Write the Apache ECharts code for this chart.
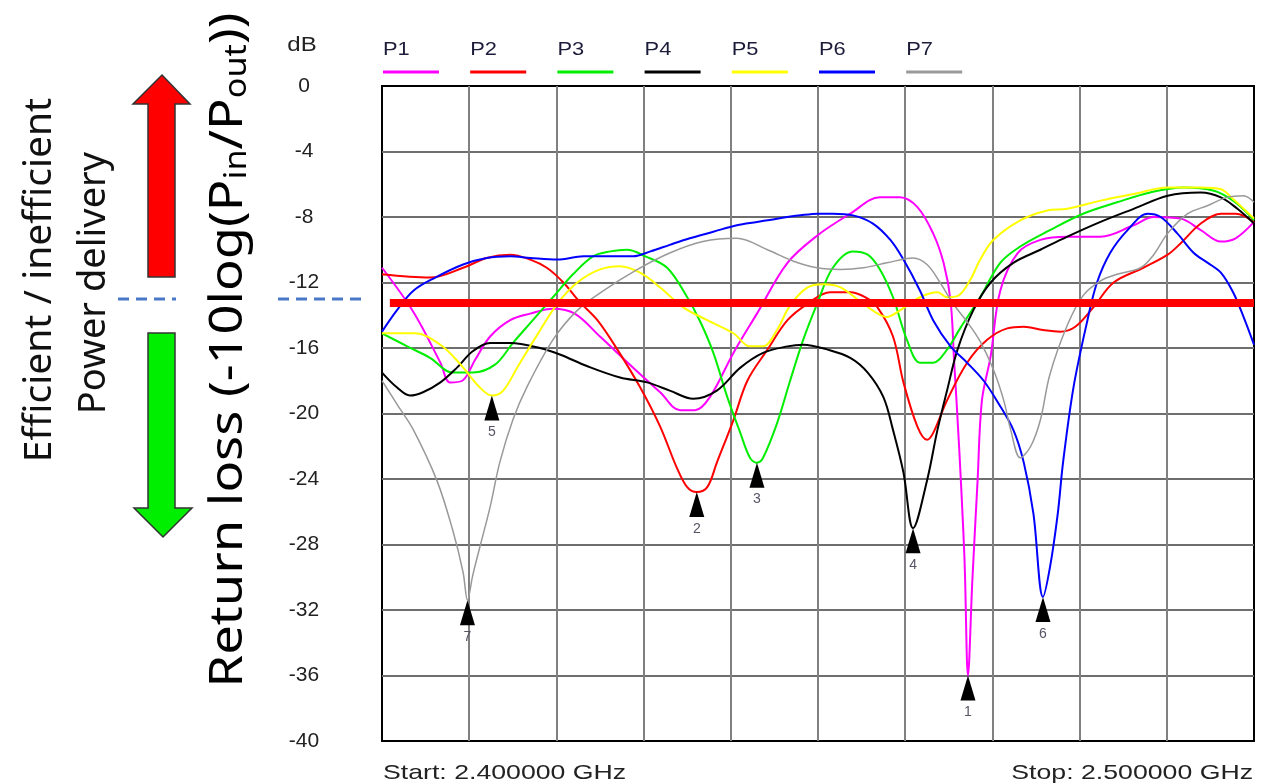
<!DOCTYPE html>
<html>
<head>
<meta charset="utf-8">
<script src="https://cdn.jsdelivr.net/npm/echarts@6/dist/echarts.min.js"></script>
<style>
  html, body { margin: 0; padding: 0; background: #fff; }
  #myChart { width: 1276px; height: 784px; }
</style>
</head>
<body>
<div id="myChart"></div>
<script>
// frequency in MHz, return loss in dB
var freqStart = 2400, freqStop = 2500;
var names = ['P1', 'P2', 'P3', 'P4', 'P5', 'P6', 'P7'];
var colors = ['#ff00ff', '#ff0000', '#00ee00', '#000000', '#ffff00', '#0000ff', '#999999'];
var limitDb = -13.25;   // thick red threshold line
var splitDb = -13.0;    // blue dashed marks on the left

var p1 = [[2400.0,-11.1],[2403.6,-13.8],[2406.7,-16.9],[2407.8,-18.1],[2409.2,-18.0],[2410.7,-16.7],[2412.4,-15.3],[2414.7,-14.3],[2417.0,-13.9],[2419.6,-13.6],[2422.1,-13.9],[2425.0,-15.3],[2428.8,-17.2],[2431.9,-18.7],[2434.2,-19.8],[2435.9,-19.8],[2437.6,-19.0],[2440.3,-16.3],[2443.0,-13.9],[2446.5,-10.8],[2450.0,-9.1],[2453.7,-7.8],[2457.1,-6.8],[2459.4,-6.8],[2461.4,-7.4],[2463.2,-9.0],[2464.4,-10.8],[2465.2,-13.1],[2465.6,-16.7],[2466.2,-22.2],[2466.8,-28.9],[2467.2,-36.0],[2467.7,-30.2],[2468.3,-24.1],[2468.8,-19.2],[2469.8,-16.5],[2470.9,-12.5],[2472.9,-10.2],[2475.5,-9.4],[2478.6,-9.2],[2482.4,-9.2],[2486.2,-8.5],[2488.5,-8.0],[2491.6,-8.1],[2493.9,-8.8],[2496.2,-9.5],[2497.9,-9.3],[2500.0,-8.3]];
var p2 = [[2400.0,-11.5],[2405.5,-11.7],[2409.3,-11.1],[2412.0,-10.5],[2414.7,-10.3],[2417.0,-10.6],[2418.9,-11.1],[2420.8,-12.0],[2422.7,-13.2],[2424.7,-14.3],[2427.0,-16.1],[2429.6,-18.4],[2431.9,-20.8],[2433.8,-23.3],[2435.0,-24.5],[2436.1,-24.8],[2437.3,-24.5],[2438.4,-23.0],[2440.3,-20.4],[2441.9,-18.0],[2444.2,-16.1],[2446.5,-14.3],[2448.8,-13.3],[2451.4,-12.6],[2453.7,-12.6],[2455.4,-12.9],[2456.8,-13.5],[2458.6,-15.3],[2459.8,-18.1],[2461.4,-20.8],[2462.5,-21.6],[2463.2,-21.2],[2464.8,-19.2],[2467.1,-16.9],[2469.4,-15.5],[2471.7,-14.8],[2473.6,-14.7],[2475.8,-14.9],[2477.8,-15.0],[2479.5,-14.7],[2481.6,-13.5],[2483.9,-12.0],[2487.3,-11.1],[2490.1,-10.3],[2491.6,-9.6],[2493.9,-8.4],[2496.2,-7.8],[2497.9,-7.8],[2500.0,-8.3]];
var p3 = [[2400.0,-15.1],[2402.9,-15.9],[2405.5,-16.6],[2408.1,-17.5],[2410.4,-17.5],[2413.0,-17.0],[2415.0,-15.7],[2417.3,-14.3],[2419.6,-12.9],[2421.9,-11.5],[2424.2,-10.4],[2426.2,-10.1],[2428.1,-10.0],[2430.2,-10.4],[2432.7,-11.1],[2435.0,-12.9],[2436.5,-14.4],[2438.0,-16.3],[2439.6,-19.0],[2441.1,-21.2],[2442.2,-22.7],[2443.0,-23.0],[2443.7,-22.7],[2445.3,-20.6],[2446.8,-18.0],[2448.3,-15.5],[2449.9,-13.3],[2451.7,-11.1],[2454.0,-10.1],[2455.7,-10.3],[2457.1,-11.2],[2458.6,-12.9],[2460.2,-15.5],[2461.7,-16.9],[2463.2,-16.9],[2464.8,-16.1],[2466.3,-14.8],[2468.6,-12.9],[2470.9,-10.8],[2473.2,-9.8],[2476.6,-8.8],[2480.4,-7.8],[2484.3,-7.1],[2488.1,-6.5],[2491.9,-6.2],[2495.4,-6.4],[2497.6,-7.0],[2499.3,-7.8],[2500.0,-8.2]];
var p4 = [[2400.0,-17.5],[2401.7,-18.4],[2403.2,-18.9],[2404.7,-18.7],[2406.7,-18.1],[2408.6,-17.2],[2410.4,-16.2],[2412.4,-15.7],[2414.7,-15.7],[2418.1,-16.0],[2420.4,-16.4],[2423.5,-17.1],[2427.3,-17.8],[2430.4,-18.1],[2433.0,-18.6],[2435.7,-19.1],[2438.4,-18.6],[2441.1,-17.2],[2443.7,-16.3],[2446.5,-15.9],[2448.3,-15.8],[2451.1,-16.1],[2453.7,-16.6],[2455.7,-17.5],[2457.5,-19.0],[2458.6,-21.0],[2459.8,-23.6],[2460.9,-27.0],[2462.5,-24.1],[2463.7,-21.0],[2464.8,-18.6],[2466.0,-16.1],[2467.8,-13.7],[2469.8,-12.0],[2472.4,-10.8],[2475.5,-10.0],[2478.6,-9.2],[2482.4,-8.3],[2486.2,-7.5],[2490.1,-6.7],[2493.9,-6.5],[2496.2,-6.8],[2498.1,-7.5],[2500.0,-8.4]];
var p5 = [[2400.0,-15.1],[2403.8,-15.1],[2406.7,-15.8],[2409.0,-17.0],[2411.2,-18.4],[2412.6,-18.9],[2413.9,-18.6],[2415.5,-17.2],[2417.8,-15.2],[2420.1,-13.3],[2422.4,-12.0],[2425.0,-11.2],[2427.3,-11.0],[2429.6,-11.4],[2431.9,-12.3],[2434.5,-13.5],[2437.3,-14.3],[2440.3,-15.1],[2442.2,-15.9],[2443.7,-15.9],[2445.3,-14.9],[2446.8,-13.4],[2448.8,-12.3],[2450.6,-12.1],[2452.6,-12.3],[2455.2,-13.3],[2457.9,-14.1],[2459.4,-13.7],[2461.7,-12.9],[2463.7,-12.6],[2464.8,-12.9],[2466.1,-12.8],[2467.5,-11.8],[2468.6,-10.6],[2470.1,-9.4],[2473.2,-8.2],[2476.3,-7.6],[2478.6,-7.5],[2482.4,-7.0],[2486.2,-6.6],[2490.1,-6.2],[2493.9,-6.2],[2496.2,-6.3],[2497.6,-6.9],[2500.0,-8.1]];
var p6 = [[2400.0,-15.0],[2401.7,-13.7],[2403.6,-12.5],[2406.1,-11.7],[2409.3,-10.9],[2412.0,-10.5],[2414.7,-10.4],[2417.0,-10.5],[2420.1,-10.6],[2423.1,-10.4],[2426.2,-10.4],[2428.8,-10.4],[2430.8,-10.1],[2433.0,-9.7],[2435.3,-9.3],[2438.0,-8.9],[2440.7,-8.5],[2443.0,-8.3],[2445.3,-8.1],[2448.0,-7.9],[2450.0,-7.8],[2451.7,-7.8],[2454.0,-7.9],[2456.3,-8.4],[2458.3,-9.4],[2459.8,-10.6],[2461.7,-12.5],[2463.2,-14.3],[2465.2,-15.9],[2467.1,-16.9],[2469.0,-18.0],[2470.6,-19.3],[2472.4,-21.0],[2473.6,-23.0],[2474.7,-26.1],[2475.8,-31.2],[2476.6,-29.4],[2477.5,-26.1],[2478.1,-23.0],[2479.3,-18.4],[2480.9,-14.3],[2482.0,-12.0],[2483.5,-10.2],[2485.5,-8.8],[2487.8,-7.8],[2489.3,-8.0],[2491.2,-9.0],[2493.1,-10.2],[2494.7,-10.8],[2496.2,-11.4],[2497.6,-12.6],[2498.8,-14.1],[2500.0,-15.8]];
var p7 = [[2400.0,-18.0],[2401.8,-19.5],[2403.6,-21.0],[2406.3,-24.1],[2408.1,-27.1],[2409.3,-29.7],[2409.8,-31.4],[2410.4,-29.9],[2411.2,-28.2],[2412.4,-25.7],[2413.5,-23.0],[2415.0,-20.4],[2416.6,-18.4],[2419.6,-15.5],[2422.4,-13.7],[2425.4,-12.5],[2429.3,-11.2],[2433.0,-10.2],[2436.8,-9.5],[2440.7,-9.3],[2444.2,-10.0],[2447.2,-10.7],[2449.9,-11.1],[2452.6,-11.2],[2455.2,-11.1],[2457.9,-10.8],[2460.9,-10.5],[2462.5,-10.9],[2464.0,-12.0],[2465.5,-13.3],[2467.1,-14.4],[2468.6,-15.6],[2470.1,-17.3],[2471.3,-19.2],[2472.1,-21.0],[2473.2,-22.7],[2474.4,-22.0],[2475.5,-20.4],[2476.6,-17.6],[2478.6,-14.6],[2480.4,-12.8],[2482.4,-11.9],[2484.3,-11.5],[2487.0,-11.1],[2488.5,-10.3],[2490.1,-9.0],[2492.4,-7.8],[2494.7,-7.3],[2496.9,-6.8],[2498.8,-6.7],[2500.0,-7.1]];
var allData = [p1, p2, p3, p4, p5, p6, p7];

var myChart = echarts.init(document.getElementById('myChart'));

var series = [];
for (var i = 0; i < names.length; i++) {
  series.push({
    name: names[i],
    type: 'line',
    data: allData[i],
    showSymbol: false,
    smooth: 0.35,
    lineStyle: { color: colors[i], width: i == 6 ? 1.5 : 2 },
    markPoint: {
      symbol: 'triangle',
      symbolSize: [15, 25],
      symbolOffset: [0, '50%'],
      itemStyle: { color: '#000' },
      label: {
        show: true,
        position: 'bottom',
        distance: 5,
        color: '#555566',
        fontSize: 14,
        fontFamily: 'Liberation Sans',
        formatter: function (p) { return p.seriesName.slice(1); }
      },
      data: [{ type: 'min', valueDim: 'y' }]
    }
  });
}
// threshold
series.push({
  name: 'limit',
  type: 'line',
  data: [[freqStart + 0.9, limitDb], [freqStop, limitDb]],
  showSymbol: false,
  silent: true,
  z: 5,
  lineStyle: { color: '#ff0000', width: 8 }
});

var option = {
  animation: false,
  grid: { left: 382, right: 22, top: 86, bottom: 43, show: true, borderColor: '#000', borderWidth: 2 },
  xAxis: {
    type: 'value', min: freqStart, max: freqStop, interval: 10,
    axisLine: { show: false }, axisTick: { show: false }, axisLabel: { show: false },
    splitLine: { show: true, showMinLine: false, showMaxLine: false, lineStyle: { color: '#808080', width: 2 } }
  },
  yAxis: {
    type: 'value', min: -40, max: 0, interval: 4,
    axisLine: { show: false }, axisTick: { show: false },
    axisLabel: { color: '#222', fontSize: 21, fontFamily: 'Liberation Sans', align: 'center', margin: 78 },
    splitLine: { show: true, showMinLine: false, showMaxLine: false, lineStyle: { color: '#6e6e6e', width: 2 } }
  },
  series: series
};
myChart.setOption(option);

// legend, side texts and arrows
var g = [];
var ySplit = myChart.convertToPixel({ yAxisIndex: 0 }, splitDb);
for (var j = 0; j < names.length; j++) {
  var lx = myChart.convertToPixel({ xAxisIndex: 0 }, freqStart + j * 10) + 1;
  g.push({ type: 'text', x: lx, y: 50, scaleX: 1.15, style: { text: names[j], fill: '#1c1c3a', font: '19px "Liberation Sans"', verticalAlign: 'middle' } });
  g.push({ type: 'line', shape: { x1: lx, y1: 72, x2: lx + 56, y2: 72 }, style: { stroke: colors[j], lineWidth: 3 } });
}
g.push({ type: 'text', x: 302, y: 45, scaleX: 1.2, style: { text: 'dB', fill: '#222', font: '20px "Liberation Sans"', align: 'center', verticalAlign: 'middle' } });
g.push({ type: 'text', x: 383, y: 773, scaleX: 1.27, style: { text: 'Start: ' + (freqStart / 1000).toFixed(6) + ' GHz', fill: '#222', font: '21px "Liberation Sans"', verticalAlign: 'middle' } });
g.push({ type: 'text', x: 1253, y: 773, scaleX: 1.27, style: { text: 'Stop: ' + (freqStop / 1000).toFixed(6) + ' GHz', fill: '#222', font: '21px "Liberation Sans"', align: 'right', verticalAlign: 'middle' } });

g.push({ type: 'text', x: 40, y: 280, rotation: Math.PI / 2, style: { text: 'Efficient / inefficient', fill: '#111', font: '39px "Noto Sans"', align: 'center', verticalAlign: 'middle' } });
g.push({ type: 'text', x: 94, y: 283, rotation: Math.PI / 2, style: { text: 'Power delivery', fill: '#111', font: '38px "Noto Sans"', align: 'center', verticalAlign: 'middle' } });
g.push({
  type: 'text', x: 224, y: 350, rotation: Math.PI / 2, scaleX: 1.14,
  style: {
    text: '{a|Return loss (-10log(P}{s|in}{a|/P}{s|out}{a|))}',
    align: 'center', verticalAlign: 'middle',
    rich: {
      a: { fontSize: 46, fontFamily: 'Noto Sans', fill: '#000', lineHeight: 56, verticalAlign: 'bottom' },
      s: { fontSize: 30, fontFamily: 'Noto Sans', fill: '#000', lineHeight: 38, verticalAlign: 'bottom' }
    }
  }
});

// up arrow (red) and down arrow (green)
g.push({ type: 'polygon', shape: { points: [[162, 75], [190, 104], [175, 104], [175, 277], [148, 277], [148, 104], [133, 104]] }, style: { fill: '#ff0000', stroke: '#333', lineWidth: 1.5 } });
g.push({ type: 'polygon', shape: { points: [[148, 333], [175, 333], [175, 508], [192, 508], [163, 537], [134, 508], [148, 508]] }, style: { fill: '#00ee00', stroke: '#333', lineWidth: 1.5 } });

// blue dashed split marks
g.push({ type: 'line', shape: { x1: 118, y1: ySplit, x2: 176, y2: ySplit }, style: { stroke: '#4a78c8', lineWidth: 3, lineDash: [11, 7] } });
g.push({ type: 'line', shape: { x1: 278, y1: ySplit, x2: 362, y2: ySplit }, style: { stroke: '#4a78c8', lineWidth: 3, lineDash: [11, 7] } });

myChart.setOption({ graphic: g });
</script>
</body>
</html>
